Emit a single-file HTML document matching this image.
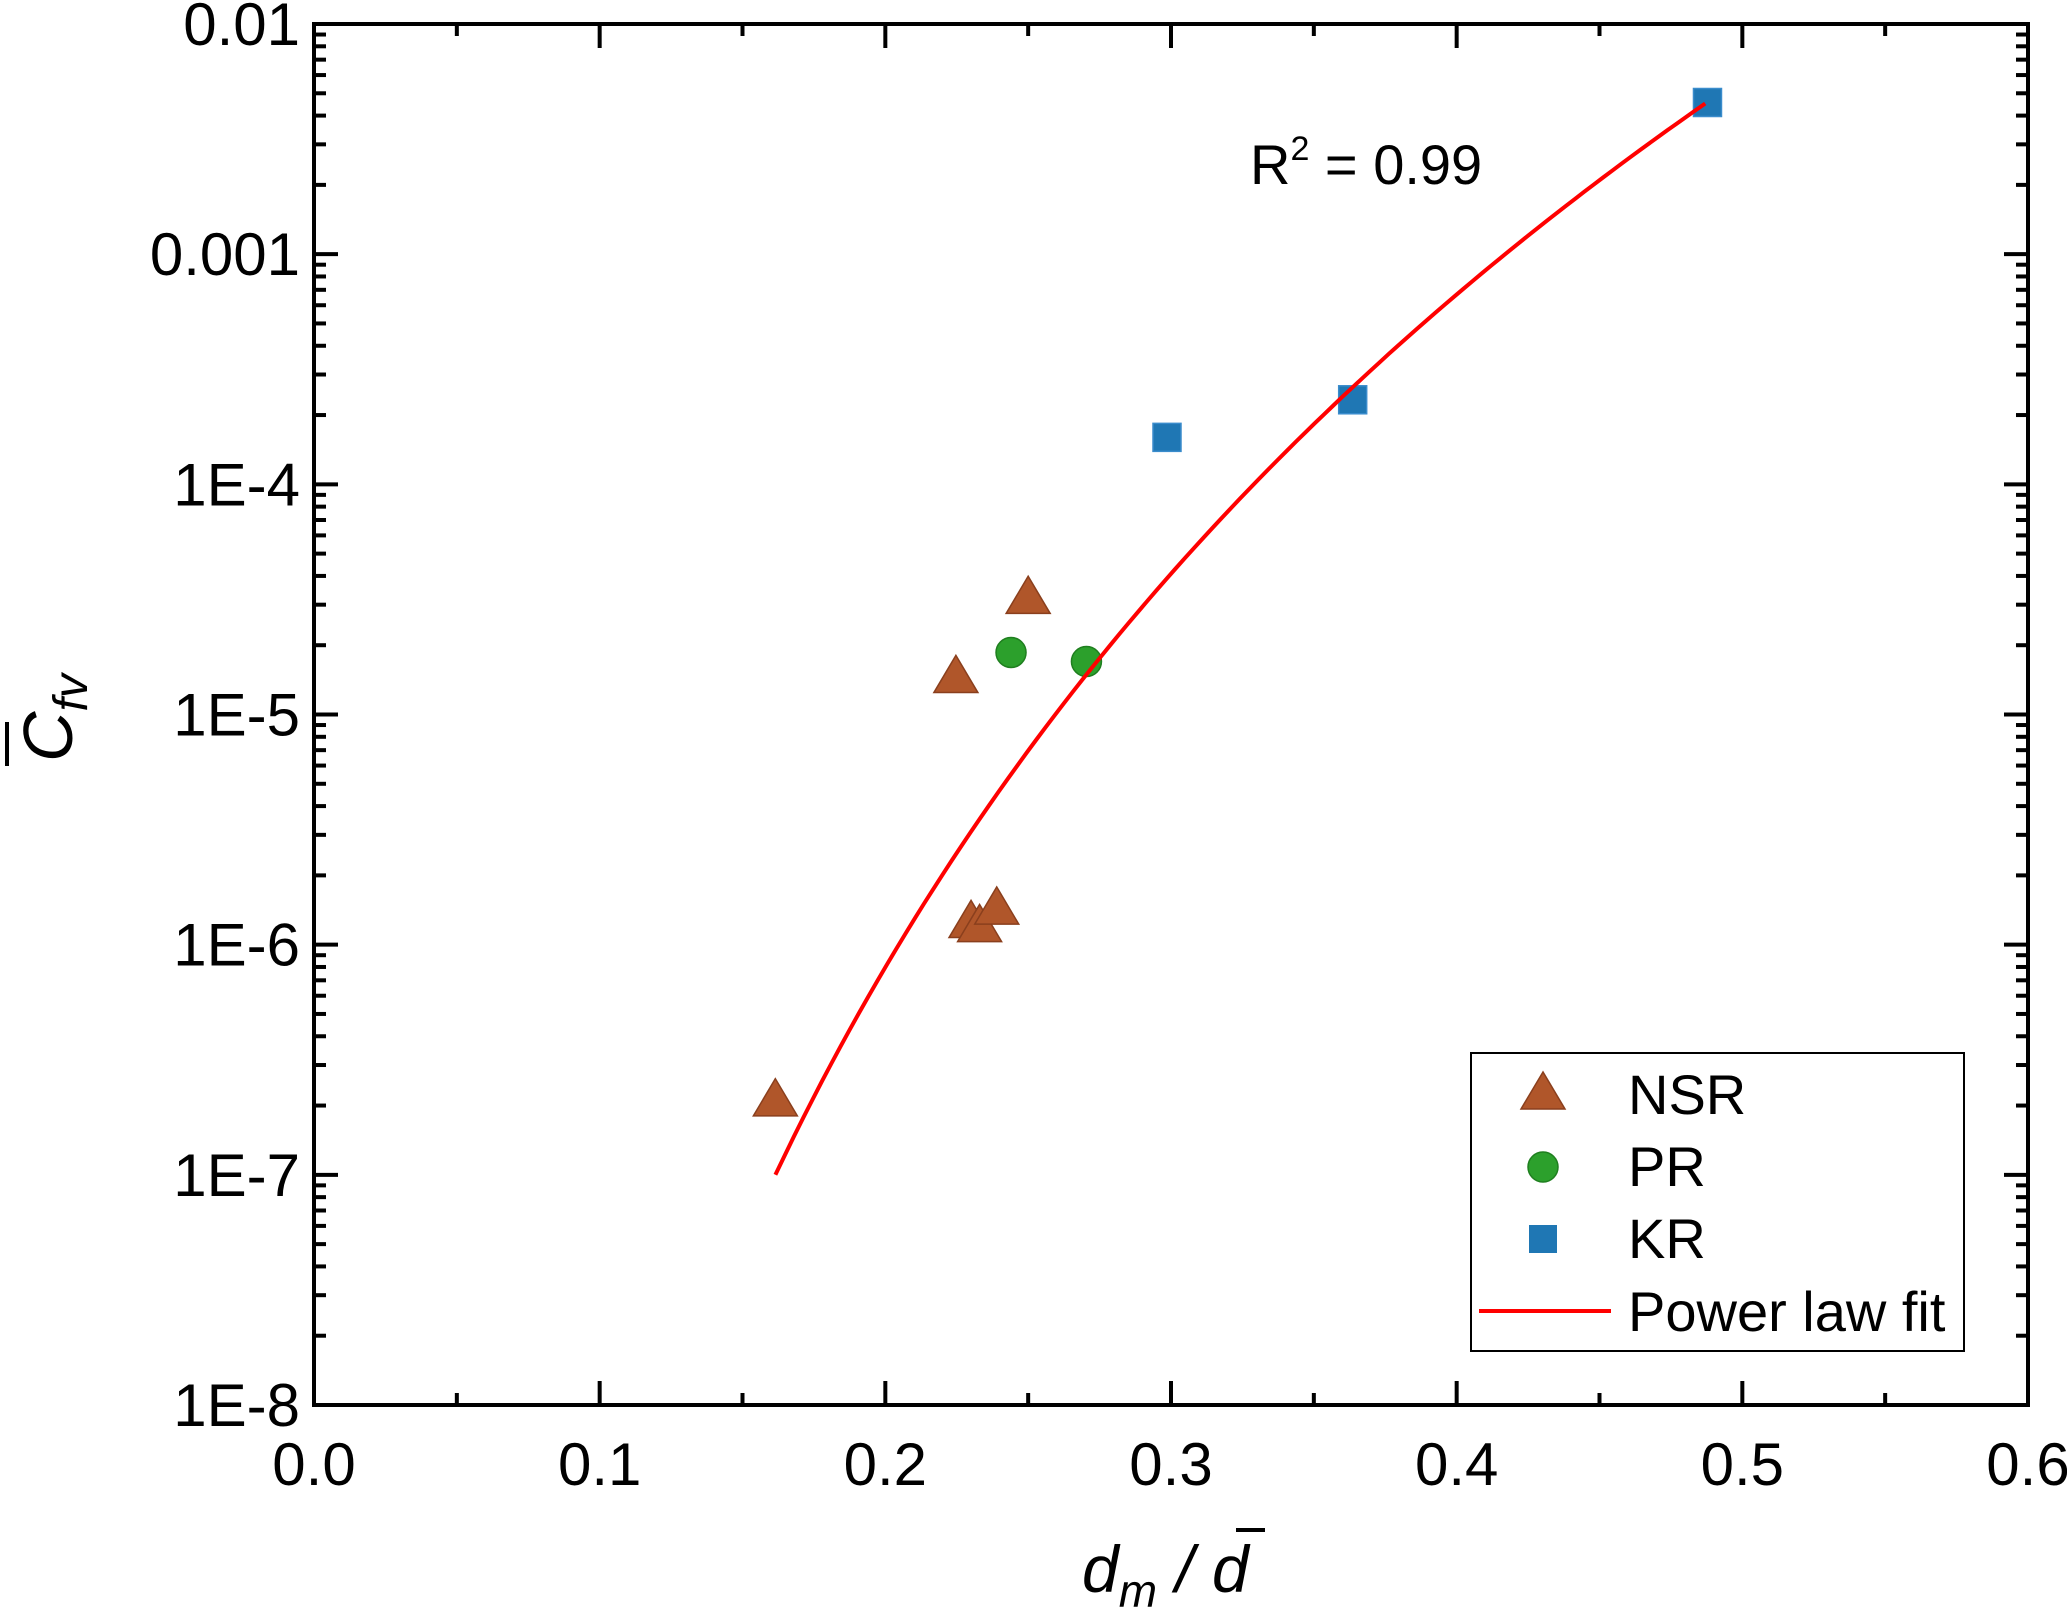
<!DOCTYPE html>
<html><head><meta charset="utf-8"><style>
html,body{margin:0;padding:0;background:#fff;}
svg{display:block;font-family:"Liberation Sans",Arial,sans-serif;}
</style></head><body>
<svg id="chart" width="2067" height="1611" viewBox="0 0 2067 1611">
<g id="plot"></g>
<g>
<text x="1250" y="184" font-size="56">R<tspan dy="-24" font-size="34">2</tspan><tspan dy="24"> = 0.99</tspan></text>
</g>
<g>
<rect x="1471" y="1053" width="493" height="298" fill="#fff" stroke="#000" stroke-width="2"/>
<g>
<polygon points="1543,1072 1521,1109 1565,1109" fill="#b0562a" stroke="#8a3f1d" stroke-width="1.5"/>
<text x="1628" y="1114" font-size="56">NSR</text></g>
<g>
<circle cx="1543" cy="1167" r="15" fill="#2ca02c" stroke="#1f7f1f" stroke-width="1.5"/>
<text x="1628" y="1186" font-size="56">PR</text></g>
<g>
<rect x="1529" y="1225" width="28" height="28" fill="#1f77b4"/>
<text x="1628" y="1258" font-size="56">KR</text></g>
<g>
<line x1="1479" x2="1611" y1="1311" y2="1311" stroke="#ff0000" stroke-width="4"/>
<text x="1628" y="1331" font-size="56">Power law fit</text></g>
</g>
<g>
<text x="1082" y="1592" font-size="66" font-style="italic">d<tspan dy="15" font-size="46">m</tspan><tspan dy="-15"> / d</tspan></text>
<line x1="1236" x2="1265" y1="1530" y2="1530" stroke="#000" stroke-width="4"/>
</g>
<g transform="translate(72,720) rotate(-90)">
<text x="-42" y="0" font-size="70" font-style="italic">C<tspan dy="15" font-size="48">fv</tspan></text>
<line x1="-46" x2="-2" y1="-65" y2="-65" stroke="#000" stroke-width="4"/>
</g>
</svg>
<script>
const nsrX=[0.1615,0.2247,0.250,0.230,0.233,0.239];
const nsrY=[2.1e-7,1.45e-5,3.2e-5,1.25e-6,1.2e-6,1.43e-6];
const prX=[0.244,0.2704];
const prY=[1.86e-5,1.7e-5];
const krX=[0.2986,0.3636,0.4878];
const krY=[1.6e-4,2.33e-4,4.56e-3];
const fitRange=[0.1615,0.487];
const fitParams=[1e-7,0.1615,9.71];
const xTicks=[0,0.1,0.2,0.3,0.4,0.5,0.6];
const xTickLabels=["0.0","0.1","0.2","0.3","0.4","0.5","0.6"];
const yDecades=[-8,-7,-6,-5,-4,-3,-2];
const yTickLabels=["1E-8","1E-7","1E-6","1E-5","1E-4","0.001","0.01"];

const L=314,R=2028,T=24,B=1405;
const sx=v=>L+(v-0)/(0.6)*(R-L);
const sy=v=>B-(Math.log10(v)+8)/6*(B-T);
const NS="http://www.w3.org/2000/svg";
const g=document.getElementById('plot');
function mk(tag,attrs,parent){const e=document.createElementNS(NS,tag);for(const k in attrs)e.setAttribute(k,attrs[k]);(parent||g).appendChild(e);return e;}

const frame=mk('rect',{x:L,y:T,width:R-L,height:B-T,fill:'none',stroke:'#000','stroke-width':4});



xTicks.forEach((t,i)=>{
  const x=sx(t);
  const a=mk('line',{x1:x,x2:x,y1:B,y2:B-24,stroke:'#000','stroke-width':4});
  
  
  mk('line',{x1:x,x2:x,y1:T,y2:T+24,stroke:'#000','stroke-width':4});
  const tx=mk('text',{x:x,y:B+80,'text-anchor':'middle','font-size':60});
  tx.textContent=xTickLabels[i];
  
  
  if(i<xTicks.length-1){
    const xm=sx(t+0.05);
    mk('line',{x1:xm,x2:xm,y1:B,y2:B-12,stroke:'#000','stroke-width':4});
    mk('line',{x1:xm,x2:xm,y1:T,y2:T+12,stroke:'#000','stroke-width':4});
  }
});
yDecades.forEach((d,i)=>{
  const y=sy(Math.pow(10,d));
  const a=mk('line',{x1:L,x2:L+24,y1:y,y2:y,stroke:'#000','stroke-width':4});
  
  
  mk('line',{x1:R,x2:R-24,y1:y,y2:y,stroke:'#000','stroke-width':4});
  const tx=mk('text',{x:L-14,y:y+21,'text-anchor':'end','font-size':60});
  tx.textContent=yTickLabels[i];
  
  
  if(i<yDecades.length-1){
    for(let m=2;m<=9;m++){
      const ym=sy(m*Math.pow(10,d));
      mk('line',{x1:L,x2:L+12,y1:ym,y2:ym,stroke:'#000','stroke-width':4});
      mk('line',{x1:R,x2:R-12,y1:ym,y2:ym,stroke:'#000','stroke-width':4});
    }
  }
});

let pts=[];
for(let k=0;k<=100;k++){
  const x=fitRange[0]+(fitRange[1]-fitRange[0])*k/100;
  const y=fitParams[0]*Math.pow(x/fitParams[1],fitParams[2]);
  pts.push(sx(x).toFixed(1)+','+sy(y).toFixed(1));
}
const fit=mk('polyline',{points:pts.join(' '),fill:'none',stroke:'#ff0000','stroke-width':4});



function tri(cx,cy,s){return mk('polygon',{points:`${cx},${cy-s*0.55} ${cx-s*0.55},${cy+s*0.38} ${cx+s*0.55},${cy+s*0.38}`,fill:'#b0562a',stroke:'#8a3f1d','stroke-width':1.5});}
nsrX.forEach((x,i)=>{const e=tri(sx(x),sy(nsrY[i]),40);
  
  });
prX.forEach((x,i)=>{const e=mk('circle',{cx:sx(x),cy:sy(prY[i]),r:15,fill:'#2ca02c',stroke:'#1f7f1f','stroke-width':1.5});
  
  });
krX.forEach((x,i)=>{const e=mk('rect',{x:sx(x)-14,y:sy(krY[i])-14,width:28,height:28,fill:'#1f77b4',stroke:'#3a8ccc','stroke-width':1.5});
  
  });
g.appendChild(fit);
</script>
</body></html>
